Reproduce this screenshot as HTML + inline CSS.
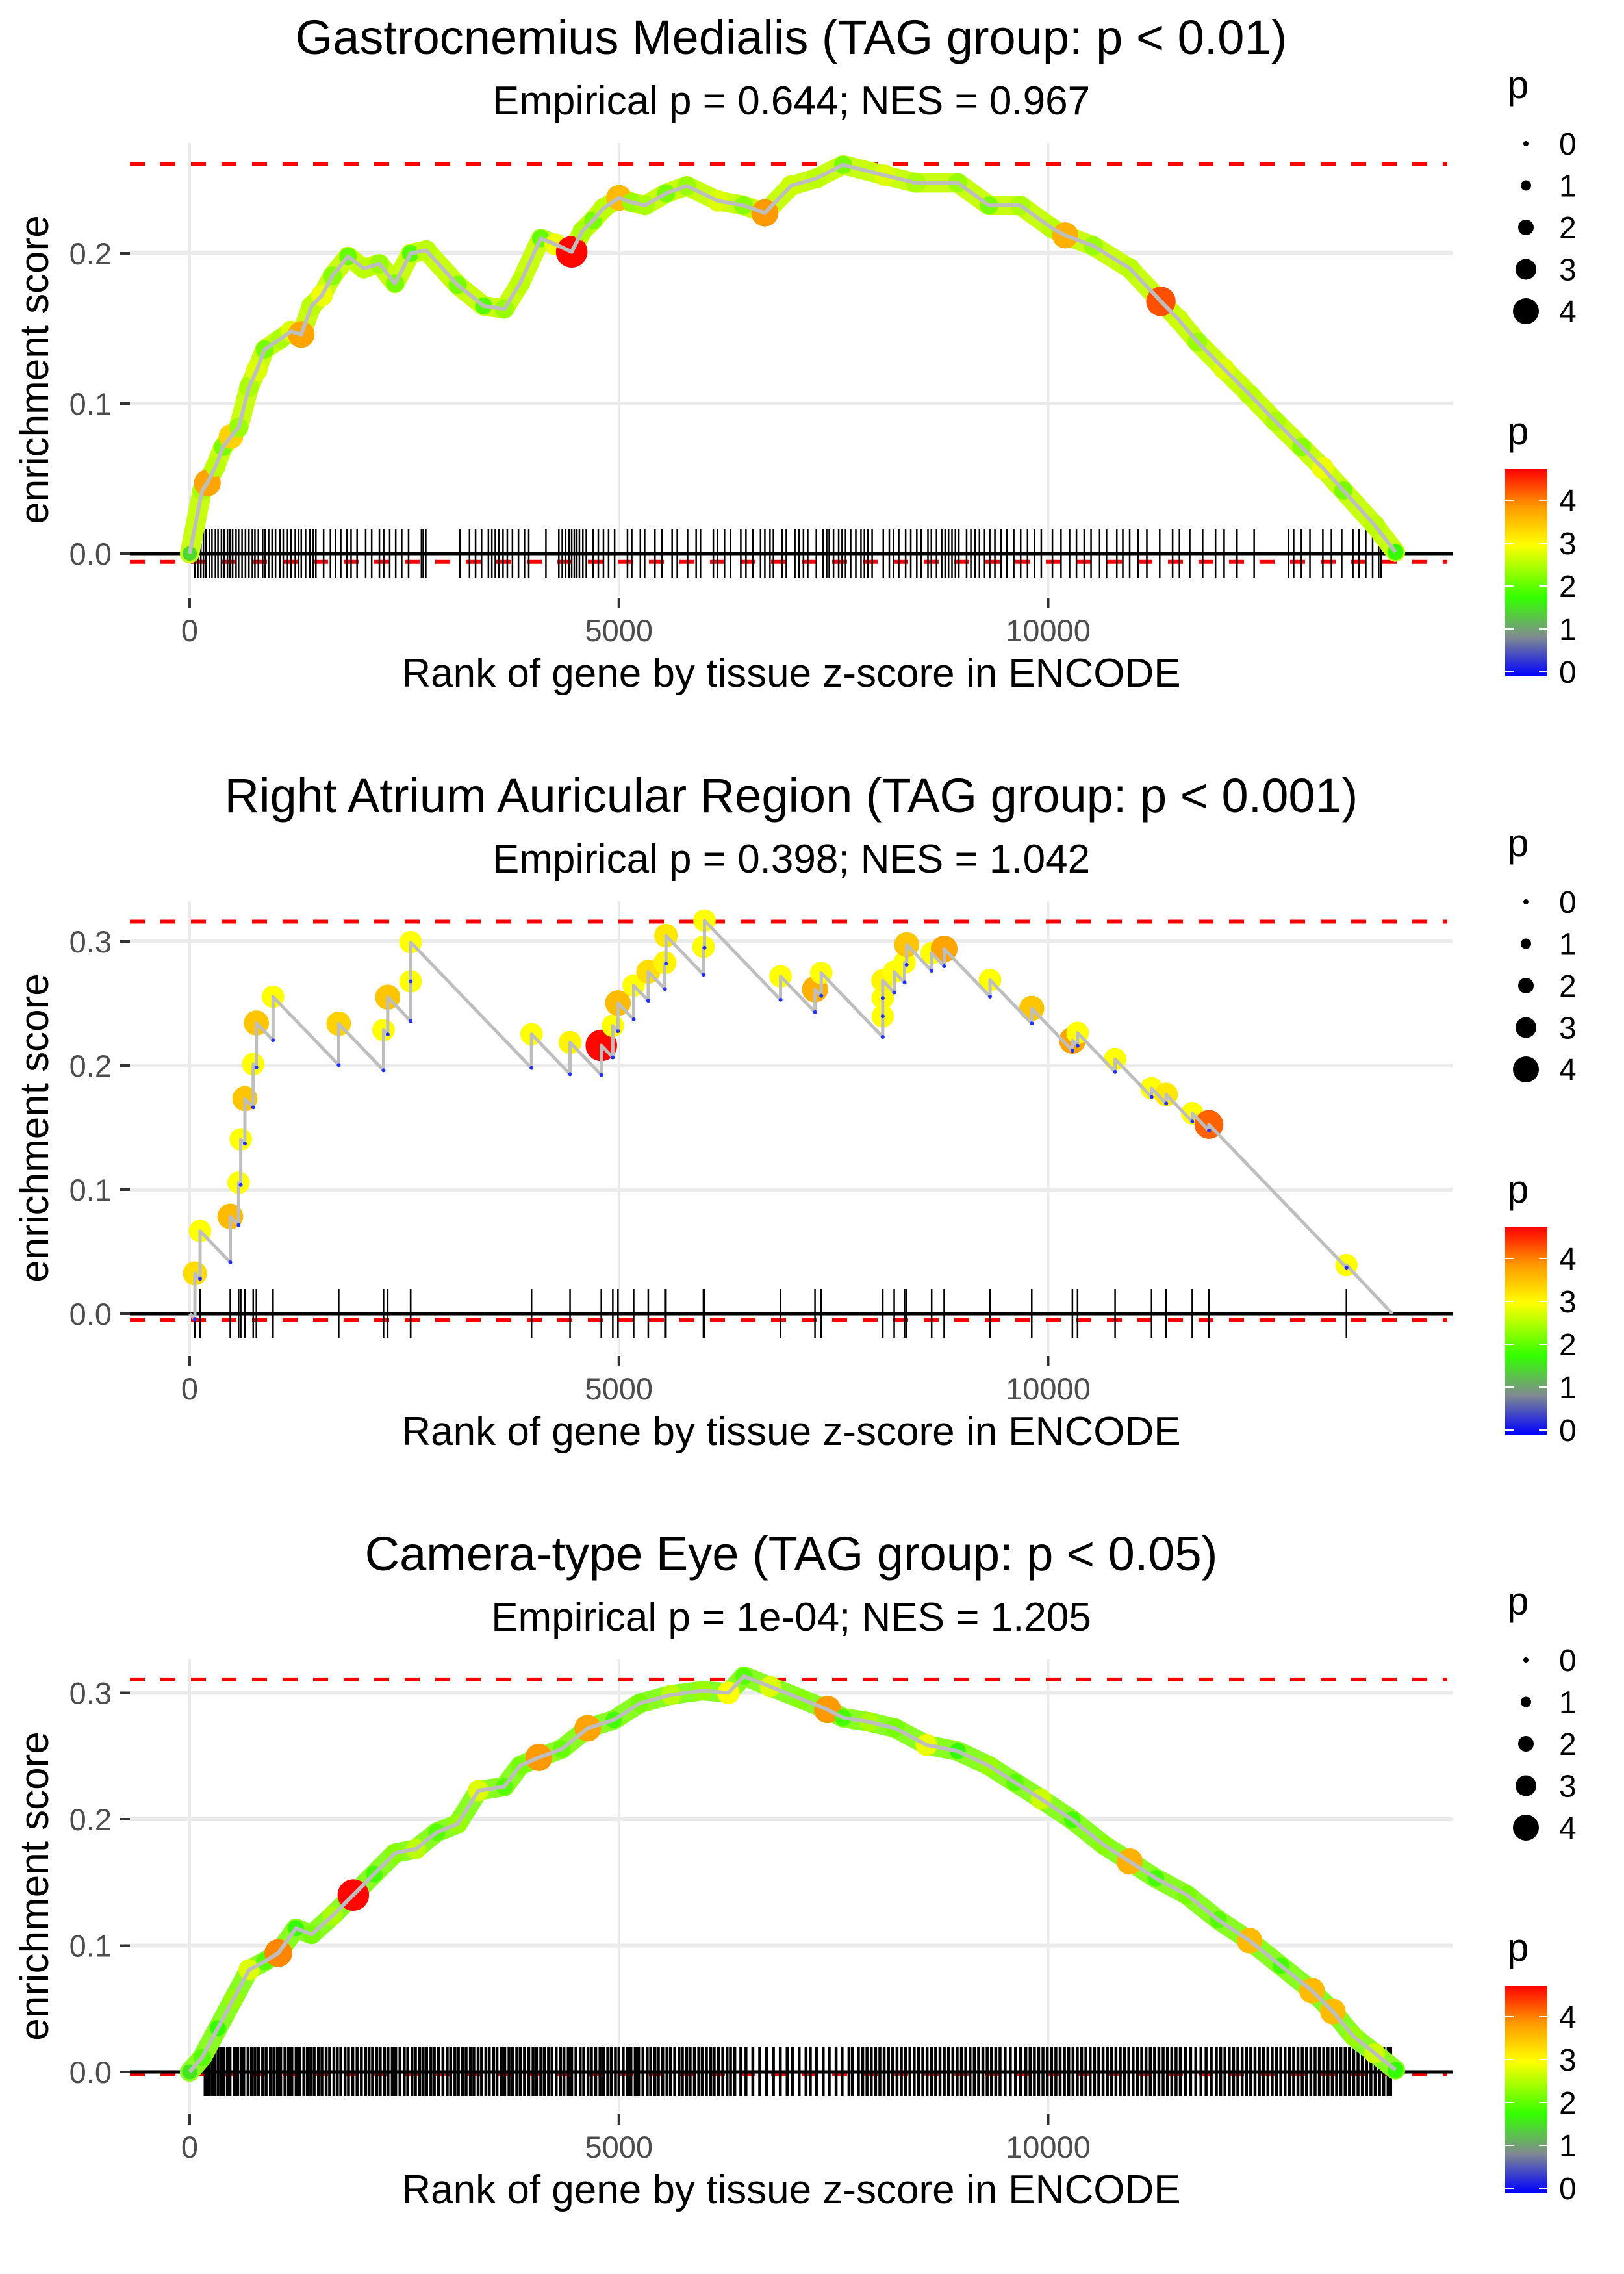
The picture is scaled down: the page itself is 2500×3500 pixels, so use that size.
<!DOCTYPE html>
<html><head><meta charset="utf-8">
<style>
html,body{margin:0;padding:0;background:#fff;}
svg{display:block;font-family:"Liberation Sans",Arial,sans-serif;}
</style></head>
<body>
<svg id="chart" xmlns="http://www.w3.org/2000/svg" width="2500" height="3500" viewBox="0 0 2500 3500">
<defs>
<linearGradient id="pgrad" x1="0" y1="1" x2="0" y2="0">
<stop offset="0" stop-color="#0000ff"/>
<stop offset="0.19" stop-color="#808a90"/>
<stop offset="0.38" stop-color="#33ff00"/>
<stop offset="0.634" stop-color="#ffff00"/>
<stop offset="0.82" stop-color="#ff9900"/>
<stop offset="1" stop-color="#ff0000"/>
</linearGradient>
</defs>
<rect x="0" y="0" width="2500" height="3500" fill="#fff"/>
</svg>
<script>
// ---------- Panel 1 data: Gastrocnemius Medialis ----------
const p1Rank=[0,145,206,300,388,480,570,692,780,874,1056,1180,1299,1420,1540,1663,1845,2027,2210,2392,2574,2756,3120,3424,3666,3848,4091,4260,4450,4576,4700,4819,5001,5150,5305,5550,5790,6154,6450,6700,7005,7300,7612,8097,8461,8947,9311,9675,10040,10200,10525,10950,11314,11520,11739,12050,12346,12650,12953,13200,13439,13803,14046];
const p1ES=[0.0,0.042,0.047,0.058,0.071,0.078,0.084,0.111,0.122,0.136,0.143,0.148,0.146,0.165,0.172,0.185,0.198,0.190,0.193,0.180,0.200,0.202,0.179,0.165,0.163,0.180,0.210,0.206,0.201,0.215,0.222,0.230,0.237,0.234,0.232,0.240,0.245,0.235,0.232,0.227,0.245,0.250,0.259,0.252,0.247,0.247,0.232,0.232,0.217,0.212,0.205,0.190,0.168,0.156,0.141,0.123,0.106,0.088,0.071,0.057,0.042,0.019,0.001];
const p1P=[1.5,2.5,3.8,2.6,2.2,3.4,2.4,2.5,2.8,2.2,2.5,2.8,3.8,2.6,2.9,2.3,2.1,2.6,2.4,2.2,2.0,2.6,2.2,2.0,2.4,2.6,2.1,2.9,4.7,2.5,2.2,2.6,3.6,2.4,2.5,2.2,2.4,2.8,2.3,3.9,2.7,2.6,2.2,2.8,2.5,2.4,2.2,2.5,2.6,3.7,2.4,2.6,4.3,2.7,2.4,2.8,2.6,2.5,2.3,2.9,2.2,2.6,1.8];
const p1Rug=[60,95,130,160,190,230,260,300,330,370,400,440,470,500,540,570,610,650,690,730,760,800,850,880,920,960,1000,1050,1090,1140,1180,1230,1270,1300,1350,1400,1440,1470,1560,1640,1700,1760,1830,1880,1950,2050,2120,2210,2260,2330,2400,2470,2550,2700,2720,2750,3150,3260,3330,3400,3480,3520,3560,3600,3650,3700,3760,3830,3900,3950,4150,4300,4340,4380,4420,4450,4480,4510,4540,4580,4620,4700,4760,4820,4880,4950,5100,5150,5250,5300,5420,5500,5620,5680,5800,5900,5950,6100,6150,6230,6300,6420,6480,6560,6650,6700,6760,6800,6900,6950,7050,7100,7150,7200,7300,7380,7420,7450,7500,7560,7600,7640,7700,7760,7820,7860,7900,7950,8080,8150,8200,8260,8340,8400,8470,8520,8600,8640,8700,8760,8800,8840,8880,8920,8960,9050,9100,9150,9200,9260,9320,9380,9450,9520,9600,9680,9760,9840,9920,10050,10150,10250,10330,10420,10500,10600,10680,10800,10870,10950,11050,11150,11300,11450,11530,11650,11800,11950,12050,12200,12400,12800,12860,12950,13050,13200,13300,13420,13550,13620,13700,13780,13850,13880];
const p1Ticks=[0,0.1,0.2];
const p1Lines=[0.2597,-0.0055];

// ---------- Panel 2 data: Right Atrium Auricular Region ----------
const p2Rank=[61,121,473,570,595,643,740,777,971,1736,2258,2307,2574,2574,3982,4431,4795,4929,4989,5172,5342,5536,5548,5985,5997,6883,7284,7357,8073,8073,8073,8207,8328,8352,8643,8789,9323,9809,10283,10343,10780,11205,11375,11679,11873,13475];
const p2ES=[0.0325,0.0667,0.0784,0.1056,0.1405,0.1733,0.2011,0.2343,0.2555,0.2337,0.2286,0.2551,0.2678,0.2994,0.2253,0.2186,0.2162,0.2320,0.2504,0.2645,0.2756,0.2829,0.3047,0.2957,0.3168,0.2719,0.2615,0.2746,0.2397,0.2544,0.2685,0.2756,0.2829,0.2974,0.2906,0.2940,0.2689,0.2461,0.2202,0.2263,0.2052,0.1817,0.1767,0.1616,0.1525,0.0392];
const p2P=[3.3,3.0,3.6,3.0,3.0,3.5,3.0,3.5,3.0,3.4,3.0,3.5,3.0,3.0,3.0,3.1,4.7,3.0,3.6,3.0,3.3,3.1,3.2,3.0,3.0,3.0,3.7,3.0,3.0,3.0,3.1,3.0,3.0,3.5,3.0,3.8,3.0,3.5,3.8,3.0,3.0,3.0,3.2,3.0,4.2,3.0];
const p2End=14010;
const p2Slope=0.000072;
const p2Ticks=[0,0.1,0.2,0.3];
const p2Lines=[0.316,-0.0047];

// ---------- Panel 3 data: Camera-type Eye ----------
const p3Rank=[0,146,328,510,692,874,1032,1238,1420,1663,1906,2149,2392,2635,2877,3120,3363,3666,3848,4067,4334,4637,4941,5245,5609,5973,6276,6458,6762,7126,7430,7612,7915,8219,8583,8947,9311,9615,9918,10282,10647,10950,11254,11618,11982,12346,12710,13074,13317,13560,13803,14046];
const p3ES=[0.0,0.0115,0.0346,0.0577,0.0808,0.0874,0.094,0.1137,0.1088,0.1236,0.140,0.1566,0.1731,0.1764,0.1896,0.1962,0.2226,0.2258,0.2423,0.2489,0.2555,0.2720,0.2786,0.2918,0.2984,0.3017,0.3000,0.3132,0.3050,0.2951,0.2868,0.2803,0.2770,0.2720,0.2588,0.2539,0.2423,0.2291,0.2160,0.1995,0.1797,0.1665,0.1533,0.1401,0.1203,0.1039,0.0841,0.0643,0.0478,0.028,0.0148,0.0016];
const p3P=[1.6,2.0,1.8,2.4,2.8,2.0,4.0,1.8,2.2,2.5,4.7,1.9,2.3,2.6,2.0,2.4,2.8,2.0,2.2,3.9,2.1,3.8,1.9,2.2,2.6,2.4,3.0,2.0,2.8,2.3,3.9,1.9,2.5,2.2,2.9,1.8,2.4,2.0,2.7,1.9,2.3,3.7,1.9,2.2,2.0,3.6,1.9,3.6,3.6,2.4,2.7,1.8];
const p3Rug=[180,220,260,290,330,370,400,440,470,520,560,600,630,680,720,760,800,850,890,940,980,1020,1060,1110,1150,1190,1240,1280,1330,1370,1410,1450,1500,1540,1590,1630,1680,1720,1760,1810,1850,1900,1950,2000,2050,2090,2130,2180,2220,2270,2310,2360,2400,2450,2500,2540,2590,2630,2680,2720,2760,2810,2850,2900,2950,3000,3040,3090,3130,3180,3220,3270,3310,3360,3400,3450,3490,3540,3580,3630,3670,3720,3760,3810,3850,3900,3950,4000,4040,4090,4130,4180,4220,4270,4320,4360,4410,4450,4500,4550,4590,4640,4680,4730,4780,4820,4870,4910,4960,5000,5050,5100,5140,5190,5230,5280,5330,5370,5420,5460,5510,5560,5600,5650,5700,5740,5790,5830,5880,5930,5970,6020,6070,6110,6160,6210,6260,6300,6350,6420,6480,6560,6640,6720,6800,6880,6960,7020,7100,7180,7230,7300,7380,7450,7530,7600,7680,7720,7790,7840,7890,7940,7990,8040,8090,8140,8190,8240,8290,8340,8390,8440,8490,8540,8590,8640,8690,8740,8790,8840,8890,8940,8990,9040,9090,9140,9190,9240,9290,9340,9390,9440,9500,9560,9620,9680,9740,9790,9840,9890,9940,9990,10040,10090,10140,10190,10240,10290,10340,10390,10440,10490,10540,10590,10640,10690,10740,10790,10840,10890,10940,10990,11040,11090,11140,11190,11240,11290,11340,11390,11440,11490,11540,11600,11660,11720,11780,11840,11900,11960,12010,12060,12110,12160,12210,12260,12310,12360,12410,12460,12510,12560,12610,12660,12710,12760,12810,12860,12910,12960,13010,13060,13110,13160,13210,13260,13310,13360,13410,13460,13510,13560,13610,13660,13710,13760,13810,13860,13910,13960,13990];
const p3Ticks=[0,0.1,0.2,0.3];
const p3Lines=[0.3106,-0.002];

const xTicks=[0,5000,10000];
const legendSizes=[0,1,2,3,4];
const titles=["Gastrocnemius Medialis (TAG group: p < 0.01)","Right Atrium Auricular Region (TAG group: p < 0.001)","Camera-type Eye (TAG group: p < 0.05)"];
const subtitles=["Empirical p = 0.644; NES = 0.967","Empirical p = 0.398; NES = 1.042","Empirical p = 1e-04; NES = 1.205"];

const NS="http://www.w3.org/2000/svg";
const svg=document.getElementById('chart');
function mk(tag,attrs,parent,text){const e=document.createElementNS(NS,tag);for(const k in attrs)e.setAttribute(k,attrs[k]);if(text!==undefined)e.textContent=text;(parent||svg).appendChild(e);return e;}

const PL=200,PR=2236;
function xS(r){return 292+r*0.13215;}
function colorOf(p){
  const st=[[0,[0,0,255]],[0.9,[128,138,144]],[1.8,[51,255,0]],[3.0,[255,255,0]],[3.9,[255,153,0]],[4.73,[255,0,0]]];
  if(p<=0)return 'rgb(0,0,255)';
  for(let i=1;i<st.length;i++){if(p<=st[i][0]){const t=(p-st[i-1][0])/(st[i][0]-st[i-1][0]);const a=st[i-1][1],b=st[i][1];return 'rgb('+a.map((v,j)=>Math.round(v+(b[j]-v)*t)).join(',')+')';}}
  return 'rgb(255,0,0)';
}
function rOf(p){return 5+4.1*p;}

const panels=[
 {off:0,y0:852,ppu:2310,ticks:p1Ticks,lines:p1Lines,band:'#c8ff10'},
 {off:1167,y0:2022,ppu:1910,ticks:p2Ticks,lines:p2Lines,band:null},
 {off:2334,y0:3189,ppu:1945,ticks:p3Ticks,lines:p3Lines,band:'#88ff20'}
];

panels.forEach((P,k)=>{
  const g=mk('g',{},svg);
  
  
  const top=220+P.off,bot=918+P.off;
  const yS=v=>P.y0-v*P.ppu;
  const t=mk('text',{x:1218,y:83+P.off,'text-anchor':'middle','font-size':74,fill:'#000'},g,titles[k]);
  
  
  const st=mk('text',{x:1218,y:176+P.off,'text-anchor':'middle','font-size':62,fill:'#000'},g,subtitles[k]);
  
  
  xTicks.forEach(v=>{const l=mk('line',{x1:xS(v),x2:xS(v),y1:top,y2:bot,stroke:'#ebebeb','stroke-width':4},g);
    });
  P.ticks.forEach(v=>{const l=mk('line',{x1:PL,x2:PR,y1:yS(v),y2:yS(v),stroke:'#ebebeb','stroke-width':6},g);
    });
  P.ticks.forEach(v=>{
    const tm=mk('line',{x1:185,x2:200,y1:yS(v),y2:yS(v),stroke:'#333','stroke-width':4},g);
    
    const tl=mk('text',{x:172,y:yS(v)+17,'text-anchor':'end','font-size':47,fill:'#4d4d4d'},g,v.toFixed(1));
    
  });
  xTicks.forEach(v=>{
    const tm=mk('line',{x1:xS(v),x2:xS(v),y1:bot+2,y2:bot+18,stroke:'#333','stroke-width':4},g);
    
    const tl=mk('text',{x:xS(v),y:987+P.off,'text-anchor':'middle','font-size':47,fill:'#4d4d4d'},g,String(v));
    
  });
  const xt=mk('text',{x:1218,y:1057+P.off,'text-anchor':'middle','font-size':62,fill:'#000'},g,'Rank of gene by tissue z-score in ENCODE');
  
  const cy=(top+bot)/2;
  const yt=mk('text',{x:0,y:0,'text-anchor':'middle','font-size':62,fill:'#000',transform:'translate(74,'+cy+') rotate(-90)'},g,'enrichment score');
  
  P.lines.forEach(v=>{const l=mk('line',{x1:PL,x2:PR-8,y1:yS(v),y2:yS(v),stroke:'#ff0000','stroke-width':6,'stroke-dasharray':'23 24'},g);
    });
  const zl=mk('line',{x1:PL,x2:PR,y1:yS(0),y2:yS(0),stroke:'#000','stroke-width':5},g);
  
  const rug=k===0?p1Rug:(k===1?p2Rank:p3Rug);
  const rg=mk('g',{},g);
  
  rug.forEach(r=>{const l=mk('line',{x1:xS(r),x2:xS(r),y1:yS(0)-38,y2:yS(0)+37,stroke:'#000','stroke-width':k===2?4.5:2.5},rg);
    });
  if(k===1){
    let d='M'+xS(0)+','+yS(0);let prevR=0,prevE=0;const bottoms=[];
    for(let i=0;i<p2Rank.length;i++){const b=prevE-p2Slope*(p2Rank[i]-prevR);d+=' L'+xS(p2Rank[i])+','+yS(b)+' L'+xS(p2Rank[i])+','+yS(p2ES[i]);bottoms.push([p2Rank[i],b]);prevR=p2Rank[i];prevE=p2ES[i];}
    d+=' L'+xS(p2End)+','+yS(0);
    for(let i=0;i<p2Rank.length;i++){const c=mk('circle',{cx:xS(p2Rank[i]),cy:yS(p2ES[i]),r:rOf(p2P[i]),fill:colorOf(p2P[i])},g);
      }
    const pl=mk('path',{d:d,fill:'none',stroke:'#bebebe','stroke-width':5,'stroke-linejoin':'round'},g);
    
    bottoms.forEach(b=>{const c=mk('circle',{cx:xS(b[0]),cy:yS(b[1]),r:3,fill:'#2030ff'},g);
      });
  } else {
    const R=k===0?p1Rank:p3Rank,E=k===0?p1ES:p3ES,PP=k===0?p1P:p3P;
    const pts=R.map((r,i)=>xS(r)+','+yS(E[i])).join(' ');
    const band=mk('polyline',{points:pts,fill:'none',stroke:P.band,'stroke-width':30,'stroke-linejoin':'round','stroke-linecap':'round'},g);
    
    R.forEach((r,i)=>{const c=mk('circle',{cx:xS(r),cy:yS(E[i]),r:rOf(PP[i]),fill:colorOf(PP[i])},g);
      });
    const pl=mk('polyline',{points:pts,fill:'none',stroke:'#bebebe','stroke-width':6,'stroke-linejoin':'round'},g);
    
  }
  const lg=mk('g',{},g);
  
  const lt=mk('text',{x:2320,y:151+P.off,'font-size':60,fill:'#000'},lg,'p');
  
  legendSizes.forEach((s,i)=>{
    const yy=221+i*64.5+P.off;
    const c=mk('circle',{cx:2349,cy:yy,r:4+4*s,fill:'#000'},lg);
    
    const tx=mk('text',{x:2400,y:yy+17,'font-size':48,fill:'#000'},lg,String(s));
    
  });
  const cg=mk('g',{},g);
  
  const ct=mk('text',{x:2320,y:684+P.off,'font-size':60,fill:'#000'},cg,'p');
  
  const bar=mk('rect',{x:2317,y:722+P.off,width:65,height:319,fill:'url(#pgrad)'},cg);
  
  legendSizes.forEach(s=>{
    const yy=1034-s*66+P.off;
    mk('line',{x1:2317,x2:2330,y1:yy,y2:yy,stroke:'#fff','stroke-width':2},cg);
    mk('line',{x1:2369,x2:2382,y1:yy,y2:yy,stroke:'#fff','stroke-width':2},cg);
    const tx=mk('text',{x:2400,y:yy+17,'font-size':48,fill:'#000'},cg,String(s));
    
  });
});
</script>
</body></html>
